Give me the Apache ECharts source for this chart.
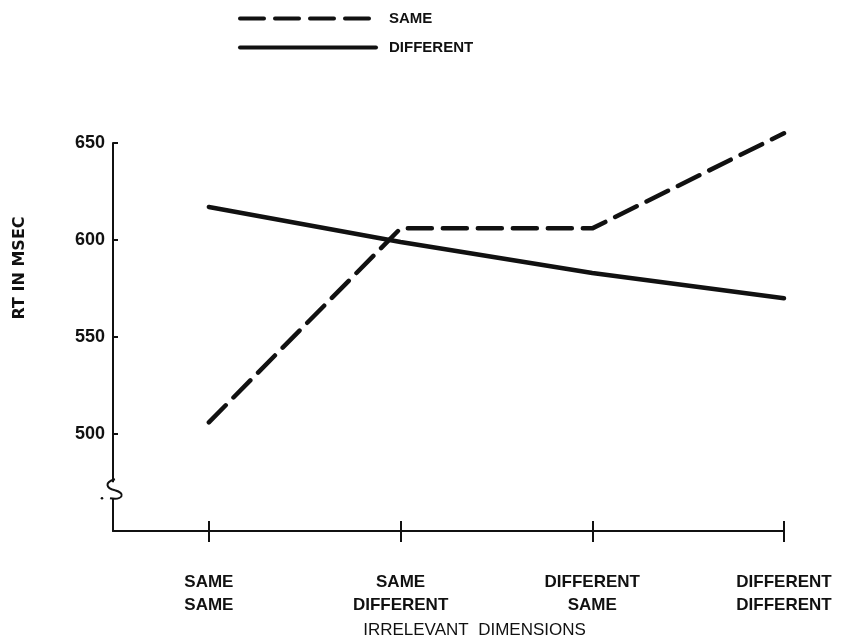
<!DOCTYPE html>
<html>
<head>
<meta charset="utf-8">
<script src="https://cdn.jsdelivr.net/npm/echarts@6/dist/echarts.min.js"></script>
<style>
  html, body { margin: 0; padding: 0; background: #fff; }
  #chart { width: 859px; height: 642px; }
</style>
</head>
<body>
<div id="chart"></div>
<script>
// Conditions of the irrelevant dimensions (x positions 1..4)
const categories = ['SAME\nSAME', 'SAME\nDIFFERENT', 'DIFFERENT\nSAME', 'DIFFERENT\nDIFFERENT'];
// Mean reaction times (msec)
const sameRT = [506, 606, 606, 655];
const differentRT = [617, 599, 583, 570];
// Y tick values shown with labels
const yTicks = [500, 550, 600, 650];

const positions = categories.map((c, i) => i + 1);
const toPoints = vals => vals.map((v, i) => [positions[i], v]);

const INK = '#111';
const FONT = '"Liberation Sans", Arial, sans-serif';

const chart = echarts.init(document.getElementById('chart'), null, { renderer: 'canvas' });

const option = {
  backgroundColor: '#fff',
  animation: false,
  grid: { left: 113, right: 75, top: 143, bottom: 111, containLabel: false, outerBoundsMode: 'none' },
  legend: {
    orient: 'vertical',
    left: 238,
    top: 11,
    padding: 0,
    itemWidth: 136,
    itemHeight: 14,
    itemGap: 14,
    itemStyle: { color: 'transparent', borderWidth: 0 },
    lineStyle: { width: 4 },
    textStyle: { fontFamily: FONT, fontWeight: 'bold', fontSize: 15, color: INK, padding: [0, 0, 0, 8] },
    data: ['SAME', 'DIFFERENT']
  },
  xAxis: [
    {
      type: 'value',
      position: 'bottom',
      min: 0.5,
      max: 4,
      splitLine: { show: false },
      axisLine: { show: true, lineStyle: { color: INK, width: 2 } },
      axisTick: { show: true, inside: true, length: 10, customValues: positions, lineStyle: { color: INK, width: 2 } },
      axisLabel: {
        show: true,
        customValues: positions,
        formatter: v => categories[Math.round(v) - 1] || '',
        margin: 40,
        lineHeight: 23,
        fontFamily: FONT,
        fontWeight: 'bold',
        fontSize: 17,
        color: INK
      },
      name: 'IRRELEVANT  DIMENSIONS',
      nameLocation: 'middle',
      nameGap: 90,
      nameTextStyle: { fontFamily: FONT, fontSize: 17, color: INK, padding: [0, 0, 0, 52] }
    },
    {
      type: 'value',
      position: 'bottom',
      min: 0.5,
      max: 4,
      splitLine: { show: false },
      axisLine: { show: false },
      axisTick: { show: true, inside: false, length: 11, customValues: positions, lineStyle: { color: INK, width: 2 } },
      axisLabel: { show: false }
    }
  ],
  yAxis: {
    type: 'value',
    min: 450,
    max: 650,
    interval: 50,
    splitLine: { show: false },
    axisLine: { show: true, lineStyle: { color: INK, width: 2 } },
    axisTick: { show: true, inside: true, length: 5, lineStyle: { color: INK, width: 2 } },
    axisLabel: {
      margin: 8,
      fontFamily: FONT,
      fontWeight: 'bold',
      fontSize: 18,
      color: INK,
      formatter: v => (yTicks.indexOf(v) >= 0 ? String(v) : '')
    },
    name: 'RT IN MSEC',
    nameLocation: 'middle',
    nameGap: 85,
    nameTextStyle: { fontFamily: '"DejaVu Sans", sans-serif', fontWeight: 'bold', fontSize: 16, color: INK, padding: [0, 0, 0, 138] }
  },
  series: [
    {
      name: 'SAME',
      type: 'line',
      xAxisIndex: 0,
      data: toPoints(sameRT),
      symbol: 'none',
      clip: false,
      lineStyle: { color: INK, width: 4.5, type: [24, 11], cap: 'round' },
      itemStyle: { color: INK }
    },
    {
      name: 'DIFFERENT',
      type: 'line',
      xAxisIndex: 0,
      data: toPoints(differentRT),
      symbol: 'none',
      clip: false,
      lineStyle: { color: INK, width: 4.5, type: 'solid', cap: 'round' },
      itemStyle: { color: INK }
    }
  ]
};

chart.setOption(option);

// Scale-break mark on the vertical axis, placed from axis coordinates
const breakPt = chart.convertToPixel({ gridIndex: 0 }, [0.5, 471]);
const bx = breakPt[0], by = breakPt[1];
chart.setOption({
  graphic: [
    {
      type: 'rect',
      shape: { x: bx - 3, y: by - 8, width: 6, height: 16 },
      style: { fill: '#fff' },
      z: 10
    },
    {
      type: 'bezierCurve',
      shape: { x1: bx + 2, y1: by - 11, cpx1: bx - 9, cpy1: by - 8, cpx2: bx - 7, cpy2: by - 2, x2: bx + 2, y2: by },
      style: { fill: null, stroke: INK, lineWidth: 2 },
      z: 11
    },
    {
      type: 'bezierCurve',
      shape: { x1: bx + 2, y1: by, cpx1: bx + 13, cpy1: by + 3, cpx2: bx + 10, cpy2: by + 10, x2: bx - 3, y2: by + 8 },
      style: { fill: null, stroke: INK, lineWidth: 2 },
      z: 11
    },
    {
      type: 'circle',
      shape: { cx: bx - 11, cy: by + 8, r: 1.3 },
      style: { fill: INK },
      z: 11
    }
  ]
});
</script>
</body>
</html>
